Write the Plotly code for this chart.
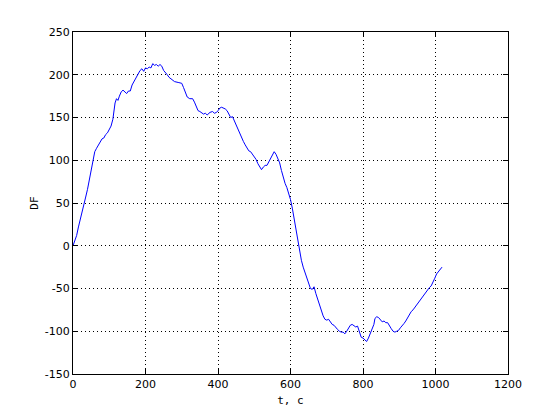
import plotly.graph_objects as go

t_values = [0, 5, 10, 15, 20, 25, 30, 35, 40, 45, 50, 55, 60, 65, 70, 75, 80, 85, 90, 95,
            100, 105, 110, 113, 116, 120, 124, 128, 133, 138, 143, 148, 153, 158, 163, 168,
            175, 180, 185, 190, 195, 200, 205, 210, 215, 220, 225, 230, 235, 240, 245, 250,
            255, 260, 265, 270, 280, 290, 300, 305, 310, 315, 322, 330, 335, 340, 345, 350,
            355, 360, 365, 370, 378, 385, 390, 396, 400, 405, 410, 415, 420, 425, 430, 435,
            440, 445, 450, 455, 460, 465, 470, 475, 480, 485, 490, 495, 500, 505, 510, 515,
            520, 525, 530, 535, 540, 545, 550, 555, 560, 565, 570, 575, 580, 585, 590, 595,
            600, 605, 610, 615, 620, 625, 630, 635, 640, 645, 650, 655, 660, 665, 670, 675,
            680, 685, 690, 695, 700, 705, 710, 715, 720, 725, 730, 735, 740, 745, 750, 755,
            760, 765, 770, 775, 780, 785, 790, 795, 800, 805, 810, 815, 820, 825, 830, 833,
            838, 843, 848, 853, 858, 863, 868, 873, 878, 883, 888, 893, 898, 903, 908, 913,
            918, 923, 928, 933, 938, 943, 948, 953, 958, 963, 968, 973, 978, 983, 988, 993,
            998, 1003, 1008, 1013, 1018]
df_values = [0, 5, 12, 22, 30, 38, 48, 57, 66, 78, 90, 102, 110, 114, 118, 122, 125, 126, 130, 132,
             136, 140, 148, 158, 167, 172, 170, 175, 180, 182, 180, 178, 181, 181, 188, 192,
             196, 200, 205, 207, 204, 208, 207, 209, 208, 213, 211, 212, 210, 212, 210, 205,
             203, 200, 197, 195, 192, 191, 190, 185, 178, 174, 172, 172, 168, 162, 158, 157,
             155, 154, 155, 153, 156, 157, 155, 156, 158, 161, 162, 161, 160, 158, 153, 150,
             151, 146, 140, 135, 130, 127, 122, 118, 114, 111, 110, 107, 104, 101, 96, 92,
             89, 92, 94, 94, 98, 102, 106, 110, 107, 101, 97, 88, 79, 73, 68, 62,
             54, 44, 32, 18, 5, -5, -17, -25, -32, -38, -46, -50, -51, -48, -56, -63,
             -68, -77, -82, -86, -87, -86, -89, -92, -93, -96, -98, -100, -101, -101, -103, -100,
             -96, -93, -92, -94, -95, -94, -101, -107, -108, -110, -112, -108, -103, -97, -92, -85,
             -83, -84, -86, -89, -88, -90, -90, -94, -97, -100, -101, -100, -99, -96, -94, -91,
             -88, -84, -80, -77, -75, -72, -70, -67, -64, -60, -57, -54, -52, -49, -47, -43,
             -38, -33, -30, -27, -25]

x_ticks = [0, 200, 400, 600, 800, 1000, 1200]
y_ticks = [-150, -100, -50, 0, 50, 100, 150, 200, 250]
x_label = "t, c"
y_label = "DF"

fig = go.Figure()
fig.add_trace(go.Scatter(x=t_values, y=df_values, mode="lines",
                         line=dict(color="#0000ff", width=1), showlegend=False))

axis_common = dict(
    showline=True, linecolor="black", linewidth=1, mirror="allticks",
    ticks="inside", ticklen=5, tickcolor="black", tickwidth=1,
    showgrid=True, gridcolor="black", gridwidth=1, griddash="1px,3px",
    zeroline=False, tickfont=dict(family="DejaVu Sans", size=11, color="black"),
    automargin=False,
)

fig.update_xaxes(range=[0, 1200], tickvals=x_ticks, ticktext=[str(v) for v in x_ticks],
                 title=dict(text=x_label, font=dict(family="DejaVu Sans Mono", size=11, color="black"), standoff=6),
                 **axis_common)
fig.update_yaxes(range=[-150, 250], tickvals=y_ticks, ticktext=[str(v) for v in y_ticks],
                 title=dict(text=y_label, font=dict(family="DejaVu Sans Mono", size=11, color="black"), standoff=3),
                 **axis_common)

fig.update_layout(
    width=560, height=420,
    margin=dict(l=65, r=60, t=24, b=54),
    paper_bgcolor="white", plot_bgcolor="white",
)

fig.write_html("out.html")
